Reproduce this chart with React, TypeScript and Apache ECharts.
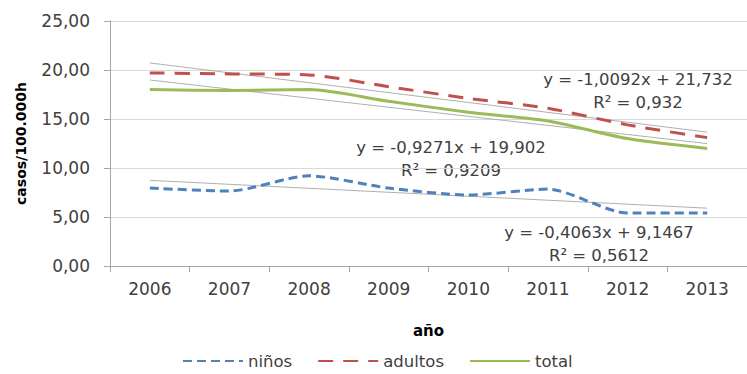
import React, { useEffect, useRef } from "react";
import * as echarts from "echarts";

const years = ["2006", "2007", "2008", "2009", "2010", "2011", "2012", "2013"];
const ninos = [7.95, 7.65, 9.2, 7.95, 7.25, 7.85, 5.4, 5.4];
const adultos = [19.7, 19.6, 19.5, 18.3, 17.1, 16.1, 14.4, 13.1];
const total = [18.0, 17.9, 18.0, 16.8, 15.7, 14.8, 13.0, 12.0];
const trendNinos = [8.74, null, null, null, null, null, null, 5.9];
const trendAdultos = [20.72, null, null, null, null, null, null, 13.66];
const trendTotal = [18.98, null, null, null, null, null, null, 12.49];
const yTicks = [0, 5, 10, 15, 20, 25];
const labels = [
  { lines: ["y = -1,0092x + 21,732", "R² = 0,932"], x: 638, y: 79 },
  { lines: ["y = -0,9271x + 19,902", "R² = 0,9209"], x: 451, y: 147 },
  { lines: ["y = -0,4063x + 9,1467", "R² = 0,5612"], x: 599, y: 232 },
];

const FONT = "'DejaVu Sans', sans-serif";

export default function App() {
  const ref = useRef<HTMLDivElement>(null);
  useEffect(() => {
    const chart = echarts.init(ref.current!, null, { renderer: "svg" });
    const trend = (name: string, data: any[]) => ({
      name,
      type: "line",
      data,
      connectNulls: true,
      symbol: "none",
      lineStyle: { color: "#9a9a9a", width: 0.8 },
      z: 1,
      silent: true,
    });
    const graphics: any[] = [];
    labels.forEach((l) => {
      l.lines.forEach((t, i) => {
        graphics.push({
          type: "text",
          x: l.x,
          y: l.y + i * 23,
          style: {
            text: t,
            fill: "#404040",
            font: `16.5px ${FONT}`,
            textAlign: "center",
            textVerticalAlign: "middle",
          },
        });
      });
    });
    chart.setOption({
      animation: false,
      backgroundColor: "#ffffff",
      grid: { left: 110, right: 0, top: 21, bottom: 108 },
      legend: {
        data: ["niños", "adultos", "total"],
        top: 352,
        left: 182,
        padding: 0,
        itemWidth: 60,
        itemHeight: 4,
        itemGap: 25,
        itemStyle: { opacity: 0 },
        textStyle: { fontFamily: FONT, fontSize: 16.5, color: "#404040", lineHeight: 18 },
      },
      xAxis: {
        type: "category",
        data: years,
        boundaryGap: true,
        name: "año",
        nameLocation: "middle",
        nameGap: 57,
        nameTextStyle: { fontFamily: FONT, fontSize: 15, fontWeight: "bold", color: "#000" },
        axisLine: { lineStyle: { color: "#a6a6a6" } },
        axisTick: { show: true, length: 6, lineStyle: { color: "#a6a6a6" } },
        axisLabel: { fontFamily: FONT, fontSize: 17, color: "#404040", margin: 14 },
      },
      yAxis: {
        type: "value",
        min: 0,
        max: 25,
        interval: 5,
        name: "casos/100.000h",
        nameLocation: "middle",
        nameGap: 82,
        nameTextStyle: { fontFamily: FONT, fontSize: 14, fontWeight: "bold", color: "#000" },
        axisLine: { show: true, lineStyle: { color: "#a6a6a6" } },
        axisTick: { show: true, length: 6, lineStyle: { color: "#a6a6a6" } },
        axisLabel: {
          fontFamily: FONT,
          fontSize: 17,
          color: "#404040",
          margin: 20,
          formatter: (v: number) => (yTicks.includes(v) ? v.toFixed(2).replace(".", ",") : ""),
        },
        splitLine: { lineStyle: { color: "#d9d9d9" } },
      },
      series: [
        trend("tNinos", trendNinos),
        trend("tAdultos", trendAdultos),
        trend("tTotal", trendTotal),
        {
          name: "niños",
          type: "line",
          data: ninos,
          smooth: 0.25,
          symbol: "none",
          itemStyle: { color: "#4f81bd" },
          lineStyle: { color: "#4f81bd", width: 3, type: [9, 5] },
          z: 3,
        },
        {
          name: "adultos",
          type: "line",
          data: adultos,
          smooth: 0.25,
          symbol: "none",
          itemStyle: { color: "#c0504d" },
          lineStyle: { color: "#c0504d", width: 3, type: [15, 10] },
          z: 3,
        },
        {
          name: "total",
          type: "line",
          data: total,
          smooth: 0.25,
          symbol: "none",
          itemStyle: { color: "#9bbb59" },
          lineStyle: { color: "#9bbb59", width: 3 },
          z: 2,
        },
      ],
      graphic: graphics,
    });
    return () => chart.dispose();
  }, []);
  return (
    <div
      ref={ref}
      style={{ position: "absolute", left: 0, top: 0, width: 747, height: 374 }}
    />
  );
}
